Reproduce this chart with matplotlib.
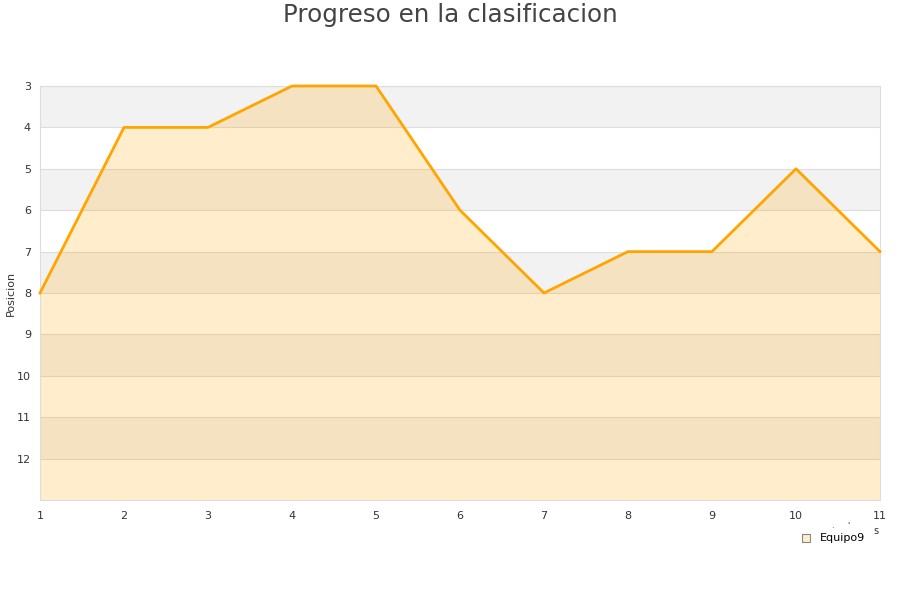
import matplotlib
matplotlib.use("Agg")
import matplotlib.pyplot as plt
from matplotlib.patches import Rectangle

jornadas = [1, 2, 3, 4, 5, 6, 7, 8, 9, 10, 11]
posicion = [8, 4, 4, 3, 3, 6, 8, 7, 7, 5, 7]
y_ticks = [3, 4, 5, 6, 7, 8, 9, 10, 11, 12]
serie = "Equipo9"
titulo = "Progreso en la clasificacion"

fig = plt.figure(figsize=(9, 6), dpi=100)
ax = fig.add_axes([40/900, 100/600, 840/900, 414/600])

# alternating bands
for y in range(3, 13):
    color = "#f2f2f2" if (y - 3) % 2 == 0 else "#ffffff"
    ax.axhspan(y, y + 1, color=color, zorder=0, lw=0)
for y in range(3, 14):
    ax.axhline(y, color="#dddddd", lw=0.8, zorder=1)

ax.fill_between(jornadas, posicion, 13, color="#ffa500", alpha=0.2, lw=0, zorder=2)
ax.plot(jornadas, posicion, color="#ffa500", lw=2, zorder=3, clip_on=False)

ax.set_xlim(1, 11)
ax.set_ylim(13, 3)
ax.set_xticks(jornadas)
ax.set_yticks(y_ticks)
ax.tick_params(axis="both", length=0, labelsize=8, colors="#333333")
ax.tick_params(axis="x", pad=8)
ax.tick_params(axis="y", pad=6.5)
for s in ax.spines.values():
    s.set_color("#dddddd")
    s.set_linewidth(0.8)

fig.text(11/900, 1 - 293/600, "Posicion", fontsize=8, color="#333333",
         rotation=90, ha="center", va="center")

fig.text(0.5, 1 - 15/600, titulo, ha="center", va="center", fontsize=17.7, color="#444444")

# stray x-axis label fragments
fig.text(832/900, 1 - 525/600, ".", fontsize=6, color="#333333", ha="center", va="center")
fig.text(848/900, 1 - 526/600, "'", fontsize=6, color="#333333", ha="center", va="center")
fig.text(876/900, 1 - 531/600, "s", fontsize=7, color="#333333", ha="center", va="center")

# legend
fig.patches.append(Rectangle((802/900, 1 - 542/600), 8/900, 8/600, transform=fig.transFigure,
                             facecolor="#ffedcc", edgecolor="#888888", lw=0.8))
fig.text(820/900, 1 - 538/600, serie, fontsize=8, color="#000000", ha="left", va="center")

fig.savefig("out.png", dpi=100)
